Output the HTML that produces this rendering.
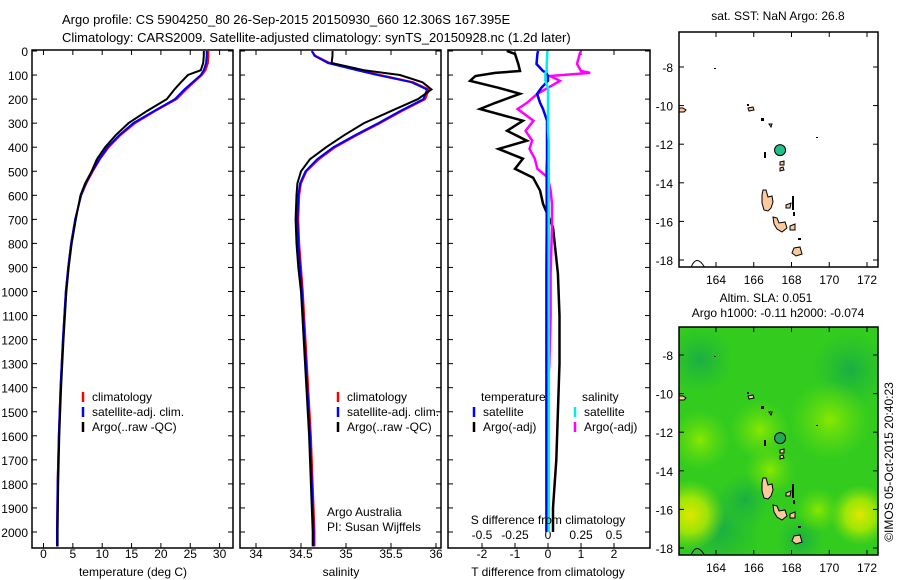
<!DOCTYPE html>
<html><head><meta charset="utf-8"><style>
html,body{margin:0;padding:0;background:#fff;}
svg{display:block;font-family:"Liberation Sans",sans-serif;}
text{font-size:12px;fill:#000;}
</style></head><body>
<svg id="s" width="900" height="580" viewBox="0 0 900 580">
<defs>
<clipPath id="c1"><rect x="32" y="50" width="201" height="498"/></clipPath>
<clipPath id="c2"><rect x="240" y="50" width="201" height="498"/></clipPath>
<clipPath id="c3"><rect x="448" y="50" width="202" height="498"/></clipPath>
<clipPath id="cm1"><rect x="679" y="32" width="199" height="235"/></clipPath>
<clipPath id="cm2"><rect x="679" y="327" width="199" height="228"/></clipPath>
<radialGradient id="gy1"><stop offset="0" stop-color="#e0e600"/><stop offset="0.5" stop-color="#b8ec00" stop-opacity="0.8"/><stop offset="1" stop-color="#8de010" stop-opacity="0"/></radialGradient>
<radialGradient id="gl"><stop offset="0" stop-color="#88e800"/><stop offset="1" stop-color="#66dd10" stop-opacity="0"/></radialGradient>
<radialGradient id="gd"><stop offset="0" stop-color="#1aae44"/><stop offset="1" stop-color="#22bb33" stop-opacity="0"/></radialGradient>
</defs>
<text x="62" y="24" style="font-size:13px">Argo profile: CS 5904250_80 26-Sep-2015 20150930_660 12.306S 167.395E</text>
<text x="62" y="42" style="font-size:13px">Climatology: CARS2009. Satellite-adjusted climatology: synTS_20150928.nc (1.2d later)</text>
<g id="panels"></g>
<g id="maps"></g>
<text transform="translate(893,462) rotate(-90)" text-anchor="middle">©IMOS 05-Oct-2015 20:40:23</text>
</svg>
<script>
// ---- data ----
const depths = [0,20,50,80,100,130,160,200,250,300,350,400,450,500,550,600,700,800,900,1000,1200,1400,1600,1800,2000,2060];
const tempClim = [28.1,28.1,28.0,27.6,27.0,25.6,24.3,22.7,19.0,15.6,13.1,11.1,9.6,8.4,7.3,6.4,5.4,4.7,4.2,3.8,3.3,2.9,2.6,2.4,2.3,2.3];
const tempAdj  = [27.8,27.8,27.7,27.3,26.8,25.4,24.0,22.4,18.8,15.3,12.9,10.9,9.5,8.3,7.2,6.4,5.4,4.7,4.2,3.8,3.3,2.9,2.6,2.4,2.3,2.3];
const tempArgo = [27.3,27.3,27.2,26.8,24.6,23.4,22.3,21.0,17.6,14.5,12.3,10.5,9.1,8.2,7.1,6.3,5.5,4.8,4.3,3.9,3.4,3.0,2.7,2.5,2.4,2.4];
const salClim = [34.62,34.66,34.82,35.15,35.38,35.75,35.92,35.88,35.62,35.38,35.12,34.88,34.7,34.56,34.5,34.48,34.47,34.48,34.5,34.52,34.55,34.58,34.61,34.63,34.65,34.65];
const salAdj  = [34.62,34.65,34.8,35.12,35.35,35.73,35.9,35.86,35.6,35.36,35.1,34.86,34.68,34.55,34.49,34.47,34.46,34.47,34.49,34.51,34.54,34.57,34.6,34.62,34.64,34.64];
const salArgo = [34.85,34.85,34.84,35.2,35.6,35.85,35.95,35.8,35.5,35.2,34.98,34.78,34.6,34.5,34.46,34.45,34.44,34.45,34.47,34.5,34.53,34.56,34.59,34.61,34.63,34.63];
const dDepths = [0,12,54,83,91,104,124,153,178,216,241,290,332,373,407,448,490,527,581,635,734,925,1100,1300,1500,1700,1900,2000];
const tDiffArgo = [-1.25,-1.0,-0.9,-0.85,-1.6,-2.2,-2.36,-1.5,-0.85,-1.6,-2.06,-0.76,-1.24,-0.64,-1.5,-0.76,-1.0,-0.45,-0.24,-0.15,0.15,0.3,0.35,0.35,0.3,0.25,0.15,0.15];
const tDiffSat  = [-0.3,-0.32,-0.35,-0.15,-0.05,0,0,-0.2,-0.33,-0.24,-0.15,-0.03,-0.03,-0.03,-0.03,-0.03,-0.04,-0.04,-0.04,-0.04,-0.04,-0.05,-0.05,-0.05,-0.05,-0.05,-0.05,-0.05];
const sDiffArgo = [0.25,0.24,0.22,0.25,0.32,0.015,0.09,0,-0.08,-0.16,-0.23,-0.11,-0.17,-0.12,-0.14,-0.1,-0.08,0,0.02,0.03,0.03,0.02,0.02,0.01,-0.01,-0.01,0,0];
const sDiffSat  = [-0.005,-0.005,-0.01,-0.01,-0.02,-0.02,-0.02,0,0,0,0,0,0,0.005,0.005,0.005,0.005,0.005,0.005,0.005,0.005,0.005,0.005,0.005,0.005,0.005,0.005,0.005];
const depthTicks = [0,100,200,300,400,500,600,700,800,900,1000,1100,1200,1300,1400,1500,1600,1700,1800,1900,2000];
const tTicks = [0,5,10,15,20,25,30];
const sTicks = [34,34.5,35,35.5,36];
const tdTicks = [-2,-1,0,1,2];
const sdTicks = [-0.5,-0.25,0,0.25,0.5];
const sdTickLabels = ["-0.5","-0.25","0","0.25","0.5"];
const lonTicks = [164,166,168,170,172];
const latTicks = [-8,-10,-12,-14,-16,-18];
const floatLon = 167.395, floatLat = -12.306;

const NS='http://www.w3.org/2000/svg';
function mk(tag, attrs, parent){const e=document.createElementNS(NS,tag);for(const k in attrs)e.setAttribute(k,attrs[k]);parent.appendChild(e);return e;}
function txt(x,y,s,anchor,parent){const t=mk('text',{x:x,y:y,'text-anchor':anchor||'start'},parent);t.textContent=s;return t;}
const yD = d => 51 + d*0.2405;
const P = document.getElementById('panels');

function panel(x0,w,name){
  const g=mk('g',{},P);
  
  
  const r=mk('rect',{x:x0,y:50,width:w,height:498,fill:'none',stroke:'#000','stroke-width':1.5},g);
  
  
  depthTicks.forEach(d=>{mk('line',{x1:x0,x2:x0+5,y1:yD(d),y2:yD(d),stroke:'#000'},g);mk('line',{x1:x0+w-5,x2:x0+w,y1:yD(d),y2:yD(d),stroke:'#000'},g);});
  return g;
}
function xticks(g,vals,labels,fx,y,name){
  vals.forEach((v,i)=>{const x=fx(v);mk('line',{x1:x,x2:x,y1:548,y2:543,stroke:'#000'},g);mk('line',{x1:x,x2:x,y1:50,y2:55,stroke:'#000'},g);
    const t=txt(x,y,labels[i],'middle',g);
    
    });
}
function line(g,xs,ds,fx,color,clip,name,w){
  const pts=xs.map((v,i)=>fx(v).toFixed(1)+','+yD(ds[i]).toFixed(1)).join(' ');
  const l=mk('polyline',{points:pts,fill:'none',stroke:color,'stroke-width':w||2,'clip-path':'url(#'+clip+')'},g);
  
  
}
function legend(g,x,y,color,label){
  mk('line',{x1:x,x2:x,y1:y-9,y2:y+1,stroke:color,'stroke-width':2.5},g);
  const t=txt(x+9,y,label,'start',g);
  
  
}

depthTicks.forEach(d=>{const t=txt(28,yD(d)+5,String(d),'end',P);
  
  });

const fT = v => 43.5 + v*5.87;
const g1=panel(32,201,'temperature-panel');
xticks(g1,tTicks,tTicks.map(String),fT,558,'temperature-tick-label');
line(g1,tempClim,depths,fT,'#ff0000','c1','temperature-climatology');
line(g1,tempAdj,depths,fT,'#0000ff','c1','temperature-satellite-adj');
line(g1,tempArgo,depths,fT,'#000000','c1','temperature-argo');
legend(g1,83,401,'#ff0000','climatology');
legend(g1,83,416,'#0000ff','satellite-adj. clim.');
legend(g1,83,431,'#000000','Argo(..raw -QC)');
txt(133,576,'temperature (deg C)','middle',g1);

const fS = v => 256 + (v-34)*90;
const g2=panel(240,201,'salinity-panel');
xticks(g2,sTicks,sTicks.map(String),fS,558,'salinity-tick-label');
line(g2,salClim,depths,fS,'#ff0000','c2','salinity-climatology');
line(g2,salAdj,depths,fS,'#0000ff','c2','salinity-satellite-adj');
line(g2,salArgo,depths,fS,'#000000','c2','salinity-argo');
legend(g2,338,401,'#ff0000','climatology');
legend(g2,338,416,'#0000ff','satellite-adj. clim.');
legend(g2,338,431,'#000000','Argo(..raw -QC)');
txt(327,516,'Argo Australia','start',g2);
txt(327,531,'PI: Susan Wijffels','start',g2);
txt(341,576,'salinity','middle',g2);

const fTD = v => 548 + v*33;
const fSD = v => 548 + v*132;
const g3=panel(448,202,'difference-panel');
xticks(g3,tdTicks,tdTicks.map(String),fTD,558,'t-diff-tick-label');
sdTicks.forEach((v,i)=>{const t=txt(fSD(v),539,sdTickLabels[i],'middle',g3);
  
  });
line(g3,tDiffArgo,dDepths,fTD,'#000000','c3','t-diff-argo',2.5);
line(g3,sDiffArgo,dDepths,fSD,'#ff00ff','c3','s-diff-argo',2.5);
line(g3,tDiffSat,dDepths,fTD,'#0000ff','c3','t-diff-satellite',2.5);
line(g3,sDiffSat,dDepths,fSD,'#00eeee','c3','s-diff-satellite',2.5);
txt(481,401,'temperature','start',g3);
txt(582,401,'salinity','start',g3);
legend(g3,474,416,'#0000ff','satellite');
legend(g3,474,431,'#000000','Argo(-adj)');
legend(g3,575,416,'#00eeee','satellite');
legend(g3,575,431,'#ff00ff','Argo(-adj)');
txt(548,524,'S difference from climatology','middle',g3);
txt(548,576,'T difference from climatology','middle',g3);

const M=document.getElementById('maps');
const fLon = v => 716 + (v-164)*18.875;
const fLat1 = v => 67 + (-8 - v)*19.3;
const islands = [
 [[679,108],[683,108],[686,110],[684,112],[679,112]],
 [[748,108],[753,107],[754,110],[749,111]],
 [[763,190],[766,190],[768,197],[772,196],[773,202],[771,208],[768,211],[764,210],[762,203],[762,195]],
 [[773,217],[777,218],[779,223],[785,222],[787,228],[782,232],[777,229],[774,224]],
 [[794,248],[800,247],[802,254],[796,256],[792,253]],
 [[780,162],[784,161],[784,165],[780,165]],[[780,168],[783,167],[784,170],[780,171]],
 [[786,205],[791,203],[790,208],[786,208]],[[790,226],[795,224],[795,230],[790,230]],
 [[769,124],[772,124],[771,127]]
];
const darkBits=[[792,196,2,14],[793,212,2,4],[761,118,3,3],[798,238,3,2],[747,104,2,2],[714,68,2,1],[816,137,2,1],[764,152,2,6]];
function drawMap(top,clip,yOff,name,green){
  const g=mk('g',{},M);
  
  
  const h = clip==='cm1'?235:228;
  const gi=mk('g',{'clip-path':'url(#'+clip+')'},g);
  if(green){
    mk('rect',{x:679,y:top,width:199,height:h,fill:'#33cc1e'},gi);
    [[850,370,40,'gd'],[700,360,35,'gd'],[760,430,30,'gl'],[830,420,40,'gl'],[700,440,30,'gl'],[720,530,45,'gd'],[745,500,28,'gd'],[800,540,25,'gd'],[690,515,35,'gy1'],[860,515,30,'gy1'],[818,510,22,'gl'],[770,470,25,'gl']].forEach(b=>{
      mk('circle',{cx:b[0],cy:b[1],r:b[2],fill:'url(#'+b[3]+')'},gi);});
  }
  const gs=mk('g',{transform:'translate(0,'+yOff+')'},gi);
  islands.forEach(p=>{const s=mk('polygon',{points:p.map(q=>q.join(',')).join(' '),fill:'#fbc99c',stroke:'#000','stroke-width':1},gs);
    
    });
  darkBits.forEach(b=>mk('rect',{x:b[0],y:b[1],width:b[2],height:b[3],fill:'#000'},gs));
  mk('path',{d:'M690,270 Q696,252 705,268',fill:'none',stroke:'#000'},gs);
  const f=mk('circle',{cx:fLon(floatLon),cy:fLat1(floatLat),r:5.5,fill:green?'#22aa55':'#1fc08a',stroke:'#000','stroke-width':1},gs);
  
  
  mk('rect',{x:679,y:top,width:199,height:h,fill:'none',stroke:'#000','stroke-width':1.5},g);
  lonTicks.forEach(v=>{const x=fLon(v);mk('line',{x1:x,x2:x,y1:top+h,y2:top+h-5,stroke:'#000'},g);mk('line',{x1:x,x2:x,y1:top,y2:top+5,stroke:'#000'},g);
    const t=txt(x,top+h+17,String(v),'middle',g);
    
    });
  latTicks.forEach(v=>{const y=fLat1(v)+yOff;mk('line',{x1:679,x2:684,y1:y,y2:y,stroke:'#000'},g);mk('line',{x1:873,x2:878,y1:y,y2:y,stroke:'#000'},g);
    const t=txt(673,y+5,String(v),'end',g);
    
    });
}
drawMap(32,'cm1',0,'sst-map',false);
drawMap(327,'cm2',288,'sla-map',true);
txt(778,20,'sat. SST: NaN Argo: 26.8','middle',M);
txt(766,302,'Altim. SLA: 0.051','middle',M);
txt(778,317,'Argo h1000: -0.11 h2000: -0.074','middle',M);
</script>
</body></html>
